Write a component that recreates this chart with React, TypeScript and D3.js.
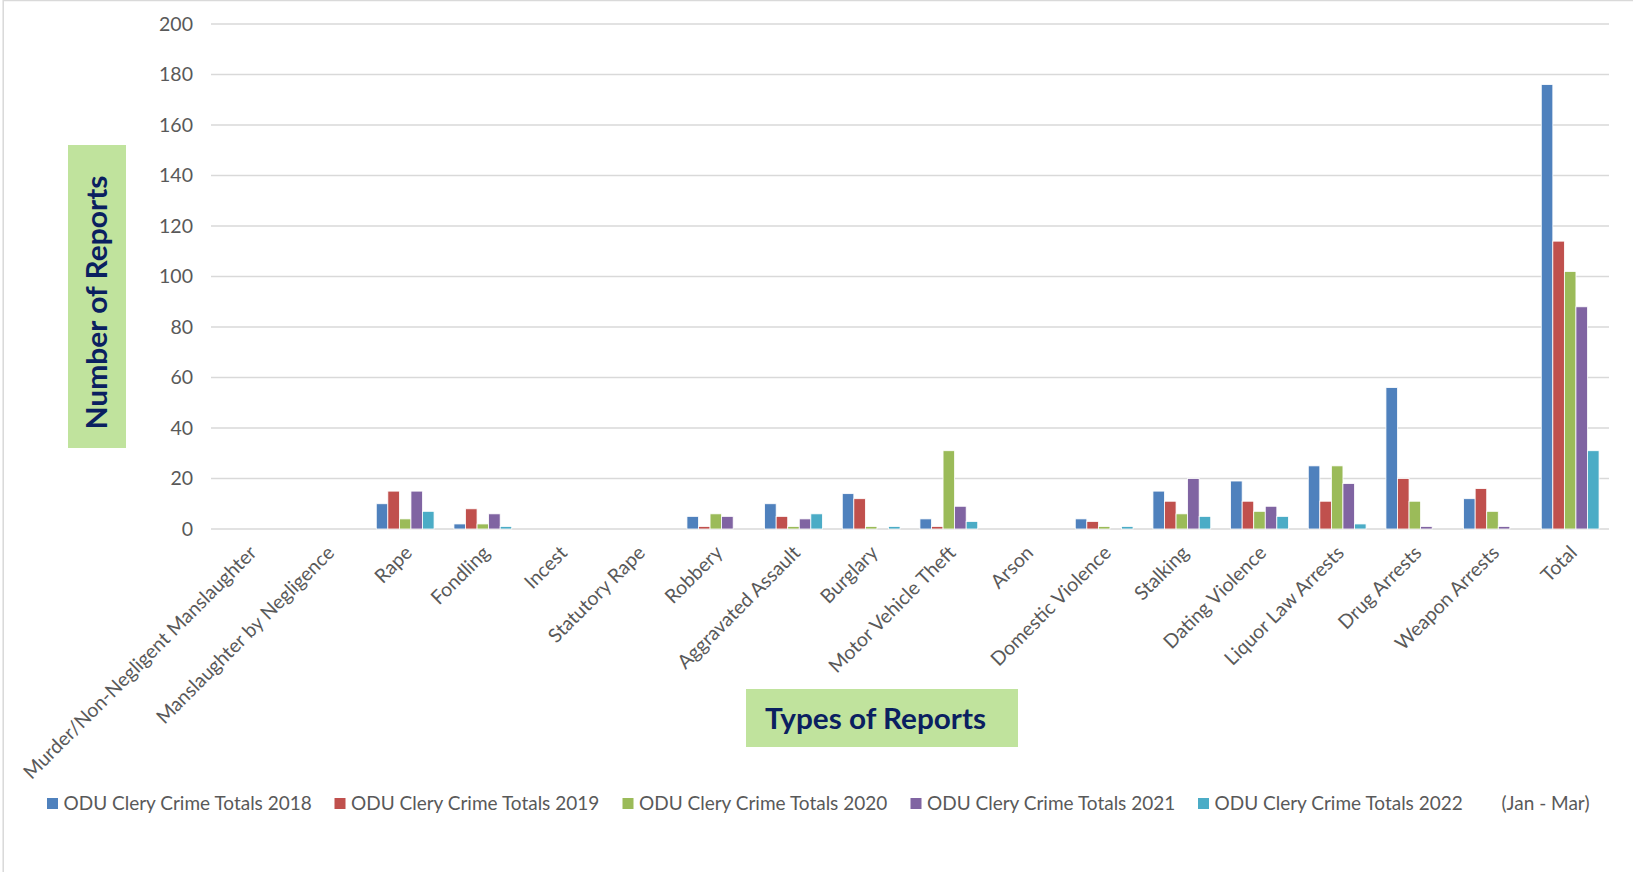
import React from "react";
import * as d3 from "d3";

const categories = [
  "Murder/Non-Negligent Manslaughter",
  "Manslaughter by Negligence",
  "Rape",
  "Fondling",
  "Incest",
  "Statutory Rape",
  "Robbery",
  "Aggravated Assault",
  "Burglary",
  "Motor Vehicle Theft",
  "Arson",
  "Domestic Violence",
  "Stalking",
  "Dating Violence",
  "Liquor Law Arrests",
  "Drug Arrests",
  "Weapon Arrests",
  "Total",
];

const seriesNames = [
  "ODU Clery Crime Totals 2018",
  "ODU Clery Crime Totals 2019",
  "ODU Clery Crime Totals 2020",
  "ODU Clery Crime Totals 2021",
  "ODU Clery Crime Totals 2022",
];

const totals2018 = [0, 0, 10, 2, 0, 0, 5, 10, 14, 4, 0, 4, 15, 19, 25, 56, 12, 176];
const totals2019 = [0, 0, 15, 8, 0, 0, 1, 5, 12, 1, 0, 3, 11, 11, 11, 20, 16, 114];
const totals2020 = [0, 0, 4, 2, 0, 0, 6, 1, 1, 31, 0, 1, 6, 7, 25, 11, 7, 102];
const totals2021 = [0, 0, 15, 6, 0, 0, 5, 4, 0, 9, 0, 0, 20, 9, 18, 1, 1, 88];
const totals2022 = [0, 0, 7, 1, 0, 0, 0, 6, 1, 3, 0, 1, 5, 5, 2, 0, 0, 31];

const seriesValues = [totals2018, totals2019, totals2020, totals2021, totals2022];
const yTicks = [0, 20, 40, 60, 80, 100, 120, 140, 160, 180, 200];
const legendNote = "(Jan - Mar)";

const colors = ["#4F81BD", "#C0504D", "#9BBB59", "#8064A2", "#4BACC6"];

export default function App() {
  const width = 1633;
  const height = 872;
  const left = 211;
  const right = 1609;
  const top = 24;
  const bottom = 529;
  const font = "Lato, 'Open Sans', sans-serif";

  const x = d3.scaleBand<string>()
    .domain(categories)
    .range([left, right])
    .paddingInner(0.256)
    .paddingOuter(0.128);

  const xs = d3.scaleBand<number>()
    .domain(d3.range(seriesNames.length))
    .range([0, x.bandwidth()]);

  const y = d3.scaleLinear().domain([0, 200]).range([bottom, top]);

  const legendX = [47, 334.5, 622.5, 910.5, 1198];

  return (
    <svg
      width={width}
      height={height}
      style={{ position: "absolute", left: 0, top: 0, display: "block" }}
      fontFamily={font}
    >
      <rect x={0} y={0} width={width} height={height} fill="#fff" />
      {/* chart frame */}
      <path d={`M3.2,${height} V0.6 H${width}`} fill="none" stroke="#D9D9D9" strokeWidth={1.5} />

      {/* gridlines */}
      {yTicks.map((t) => (
        <line key={t} x1={left} x2={right} y1={y(t)} y2={y(t)} stroke="#D9D9D9" strokeWidth={1.3} />
      ))}

      {/* y tick labels */}
      {yTicks.map((t) => (
        <text key={t} x={193} y={y(t)} dy="0.35em" textAnchor="end" fontSize={19.5} fill="#595959">
          {t}
        </text>
      ))}

      {/* bars */}
      {categories.map((c, ci) => (
        <g key={c} transform={`translate(${x(c)},0)`}>
          {seriesValues.map((vals, si) =>
            vals[ci] > 0 ? (
              <rect
                key={si}
                x={xs(si)}
                y={y(vals[ci])}
                width={xs.bandwidth()}
                height={y(0) - y(vals[ci])}
                fill={colors[si]}
                stroke="#fff"
                strokeWidth={0.8}
              />
            ) : null
          )}
        </g>
      ))}

      {/* x tick labels */}
      {categories.map((c) => {
        const cx = (x(c) ?? 0) + x.bandwidth() / 2 + 8;
        return (
          <text
            key={c}
            transform={`translate(${cx},554) rotate(-45)`}
            textAnchor="end"
            fontSize={19.5}
            fill="#595959"
          >
            {c}
          </text>
        );
      })}

      {/* y axis title */}
      <rect x={68} y={145} width={58} height={303} fill="#C0E39D" />
      <text
        transform="translate(107,302.5) rotate(-90)"
        textAnchor="middle"
        fontSize={28}
        fontWeight="bold"
        fill="#0A2060"
        textLength={254}
        lengthAdjust="spacingAndGlyphs"
      >
        Number of Reports
      </text>

      {/* x axis title */}
      <rect x={746} y={689} width={272} height={58} fill="#C0E39D" />
      <text
        x={765}
        y={729}
        fontSize={28}
        fontWeight="bold"
        fill="#0A2060"
        textLength={221}
        lengthAdjust="spacingAndGlyphs"
      >
        Types of Reports
      </text>

      {/* legend */}
      {seriesNames.map((s, i) => (
        <g key={s} transform={`translate(${legendX[i]},0)`}>
          <rect x={0} y={798} width={11} height={11} fill={colors[i]} />
          <text x={16.5} y={809.5} fontSize={19} fill="#595959">
            {s}
          </text>
        </g>
      ))}
      <text x={1501.5} y={809.5} fontSize={19} fill="#595959">
        {legendNote}
      </text>
    </svg>
  );
}
